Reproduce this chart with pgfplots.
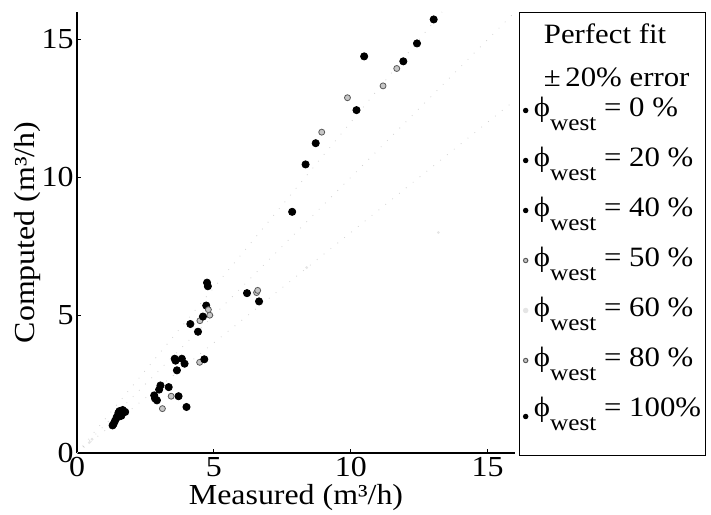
\documentclass[border=0pt]{standalone}
\usepackage{fontspec}
\setmainfont{Liberation Serif}[FakeStretch=1.1]
\usepackage{pgfplots}
\pgfplotsset{compat=1.18}
\newcommand{\phw}[1]{ϕ\raisebox{-7pt}{\fontsize{11.5}{12}\selectfont west} = #1}
\begin{document}
\begin{tikzpicture}
\begin{axis}[
  at={(0,0)}, anchor=south west, scale only axis,
  width=219pt, height=220.5pt,
  xmin=0, xmax=16, ymin=0, ymax=16,
  axis x line=bottom, axis y line=left,
  axis line style={-, line width=0.6pt},
  xtick={0,5,10,15}, ytick={0,5,10,15},
  tick align=inside, major tick length=2pt,
  tick style={line width=0.5pt, black},
  /pgf/number format/assume math mode=true,
  ticklabel style={font=\fontsize{14.5}{15}\selectfont},
  xticklabel style={inner sep=0pt, anchor=north, yshift=-2pt},
  yticklabel style={inner sep=0pt, anchor=east, xshift=-1.5pt},
  xlabel={Measured (m³/h)}, ylabel={Computed (m³/h)},
  label style={font=\fontsize{14.5}{15}\selectfont},
  xlabel style={at={(axis description cs:0.5,0)}, anchor=north, yshift=-15.5pt, inner sep=0pt},
  ylabel style={at={(axis description cs:-0.112,0.5)}, anchor=center, inner sep=0pt},
  legend style={at={(1.0091,1)}, anchor=north west, draw=black, line width=0.5pt,
    fill=white, inner xsep=2pt, inner ysep=2pt, row sep=0pt, column sep=3pt,
    font=\fontsize{14}{15}\selectfont, nodes={inner sep=0pt}},
  legend cell align=left,
  legend image code/.code={\draw[#1,mark size=1.1pt] plot coordinates {(0.15cm,2pt)};},
]
% lines (very faint in the reference)
\addplot[gray!35, loosely dotted, line width=0.4pt] coordinates {(0,0) (16,16)};
\addlegendentry[text height=13.5pt, text depth=8pt]{\hspace*{5pt}Perfect fit}
\addplot[gray!35, loosely dotted, line width=0.4pt] coordinates {(0,0) (13.333,16)};
\addlegendentry[text height=13.5pt, text depth=1.5pt]{\hspace*{5pt}±\,20\% error}
\addplot[gray!35, loosely dotted, line width=0.4pt, forget plot] coordinates {(0,0) (16,12.8)};
% phi_west = 0 %
\addplot[only marks, mark=*, mark size=1.8pt, black] coordinates {
(13.03,15.73) (12.42,14.86) (8.35,10.47) (4.75,6.18) (4.14,4.68) (3.57,3.42)
(3.65,3.00) (2.82,2.09) (1.39,1.17) (1.51,1.45) (3.05,2.45)};
\addlegendentry[text height=13.5pt, text depth=11.5pt]{\phw{0 \%}}
% 20 %
\addplot[only marks, mark=*, mark size=1.8pt, black] coordinates {
(10.49,14.39) (8.72,11.24) (6.21,5.80) (4.78,6.05) (4.42,4.40) (3.83,3.42)
(2.92,1.91) (1.34,1.06) (1.62,1.35) (3.35,2.39)};
\addlegendentry[text height=13.5pt, text depth=11.5pt]{\phw{20 \%}}
% 40 %
\addplot[only marks, mark=*, mark size=1.8pt, black] coordinates {
(11.92,14.21) (7.86,8.75) (6.65,5.50) (4.72,5.35) (3.93,3.24) (3.71,2.06)
(1.51,1.31) (1.67,1.56) (2.85,1.98)};
\addlegendentry[text height=13.5pt, text depth=11.5pt]{\phw{40 \%}}
% 50 %
\addplot[only marks, mark=*, mark size=1.5pt, draw=gray!70!black, fill=gray!45] coordinates {
(11.68,13.95) (9.88,12.89) (6.56,5.82) (4.49,4.80) (3.44,2.06) (4.80,5.20)};
\addlegendentry[text height=13.5pt, text depth=11.5pt]{\phw{50 \%}}
% 60 %
\addplot[only marks, mark=*, mark size=0.5pt, draw=gray!20, fill=gray!20] coordinates {
(13.2,8.0) (0.55,0.50) (8.39,6.73) (0.45,0.38)};
\addlegendentry[text height=13.5pt, text depth=11.5pt]{\phw{60 \%}}
% 80 %
\addplot[only marks, mark=*, mark size=1.5pt, draw=gray!70!black, fill=gray!45] coordinates {
(11.18,13.32) (8.94,11.64) (4.85,5.00) (4.48,3.29) (3.12,1.61) (6.60,5.90)};
\addlegendentry[text height=13.5pt, text depth=11.5pt]{\phw{80 \%}}
% 100 %
\addplot[only marks, mark=*, mark size=1.8pt, black] coordinates {
(10.21,12.44) (4.60,4.95) (4.65,3.40) (4.00,1.67) (1.76,1.49) (1.45,1.30)
(1.30,1.00) (1.55,1.52) (3.00,2.30) (3.60,3.35)};
\addlegendentry[text height=13.5pt, text depth=17.5pt]{\phw{100\%}}
\end{axis}
\pgfresetboundingbox
\path (-38.5pt,-30.5pt) rectangle (317pt,226.5pt);
\end{tikzpicture}
\end{document}
